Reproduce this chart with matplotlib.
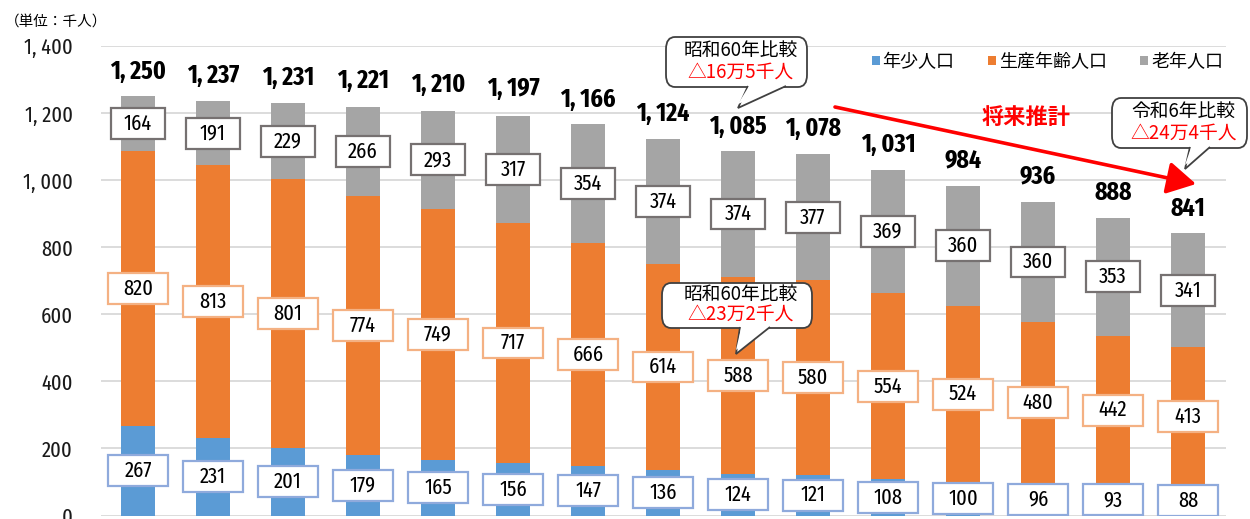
import matplotlib
matplotlib.use("Agg")
import matplotlib.pyplot as plt
from matplotlib.patches import Rectangle, FancyBboxPatch, Polygon, FancyArrowPatch
from matplotlib import font_manager as fm

# ---------------- data ----------------
categories = ["昭和60年", "平成2年", "平成7年", "平成12年", "平成17年", "平成22年",
              "平成27年", "令和2年", "令和6年", "令和7年", "令和12年", "令和17年",
              "令和22年", "令和27年", "令和32年"]
young = [267, 231, 201, 179, 165, 156, 147, 136, 124, 121, 108, 100, 96, 93, 88]
working = [820, 813, 801, 774, 749, 717, 666, 614, 588, 580, 554, 524, 480, 442, 413]
elderly = [164, 191, 229, 266, 293, 317, 354, 374, 374, 377, 369, 360, 360, 353, 341]
totals = [1250, 1237, 1231, 1221, 1210, 1197, 1166, 1124, 1085, 1078, 1031, 984, 936, 888, 841]
series_names = ["年少人口", "生産年齢人口", "老年人口"]
yticks = [0, 200, 400, 600, 800, 1000, 1200, 1400]

# ---------------- fonts ----------------
names = {f.name for f in fm.fontManager.ttflist}
narrow = next((n for n in ["Fira Sans Extra Condensed", "Fira Sans Condensed",
                           "Barlow Condensed", "Liberation Sans Narrow"] if n in names),
              "DejaVu Sans")
NUMF = [narrow, "Noto Sans CJK JP"]
JPF = ["Noto Sans CJK JP", "DejaVu Sans"]
plt.rcParams["font.family"] = JPF

C_BLUE = "#5B9BD5"
C_ORANGE = "#ED7D31"
C_GRAY = "#A5A5A5"

W, H, DPI = 1250, 519, 100
fig = plt.figure(figsize=(W / DPI, H / DPI), dpi=DPI)
ax = fig.add_axes([100.5 / W, 3.5 / H, 1125 / W, 469.5 / H])

x = list(range(len(categories)))
bw = 34 / 75
ax.bar(x, young, width=bw, color=C_BLUE, label=series_names[0], zorder=2)
ax.bar(x, working, width=bw, bottom=young, color=C_ORANGE, label=series_names[1], zorder=2)
bot2 = [a + b for a, b in zip(young, working)]
ax.bar(x, elderly, width=bw, bottom=bot2, color=C_GRAY, label=series_names[2], zorder=2)

ax.set_xlim(-0.5, len(categories) - 0.5)
ax.set_ylim(0, 1400)
ax.set_yticks(yticks)
ax.set_yticklabels([f"{v:,}".replace(",", ", ") for v in yticks], fontfamily=NUMF,
                   fontsize=16, color="#1a1a1a")
ax.set_xticks(x)
ax.set_xticklabels([])
ax.tick_params(axis="y", length=0, pad=20)
ax.tick_params(axis="x", length=0)
ax.grid(axis="y", color="#D9D9D9", lw=1.3, zorder=0)
ax.set_axisbelow(True)
for s in ax.spines.values():
    s.set_visible(False)

# data label boxes
def label_box(xc, yc, val, ec, wdat):
    hdat = 92
    ax.add_patch(Rectangle((xc - wdat / 2, yc - hdat / 2), wdat, hdat, fc="white",
                           ec=ec, lw=1.6, zorder=4))
    ax.text(xc, yc, str(val), ha="center", va="center", fontsize=16,
            fontfamily=NUMF, color="black", zorder=5)

for i in x:
    label_box(i, young[i] / 2, young[i], "#8FAADC", 0.8)
    label_box(i, young[i] + working[i] / 2, working[i], "#F4B183", 0.8)
    label_box(i, bot2[i] + elderly[i] / 2, elderly[i], "#767171", 0.72)
    ax.annotate(f"{totals[i]:,}".replace(",", ", "), (i, totals[i]), xytext=(0, 9),
                textcoords="offset points", ha="center", va="bottom", fontsize=18.5,
                fontweight="bold", fontfamily=NUMF, zorder=5)

# legend
leg = ax.legend(loc="center right", bbox_to_anchor=(1223 / W, 1 - 62 / H),
                bbox_transform=fig.transFigure, ncol=3, frameon=False,
                fontsize=13, handlelength=0.45, handleheight=0.45, handletextpad=0.15,
                columnspacing=1.85, borderpad=0, borderaxespad=0)

# helpers to convert pixel coords of reference to data
def d(px, py):
    return ((px - 138) / 75.0, (515.5 - py) / (469.5 / 1400))

def callout(box, tail, line1, line2):
    (x0, y0), (x1, y1) = d(box[0], box[3]), d(box[2], box[1])
    p = FancyBboxPatch((x0, y0), x1 - x0, y1 - y0,
                       boxstyle="round,pad=0,rounding_size=0.12", mutation_aspect=300,
                       fc="white", ec="#404040", lw=1.3, zorder=6, clip_on=False)
    ax.add_patch(p)
    (bx0, by), (bx1, _), (tx, ty) = d(tail[0], box[3]), d(tail[1], box[3]), d(*tail[2])
    eps = 3
    ax.add_patch(Polygon([(bx0, by + eps), (tx, ty), (bx1, by + eps)], closed=False,
                         fc="white", ec="#404040", lw=1.3, zorder=7, joinstyle="miter",
                         clip_on=False))
    ax.add_patch(Polygon([(bx0 + 0.02, by + eps + 2), (tx, ty + 12), (bx1 - 0.02, by + eps + 2)],
                         closed=True, fc="white", ec="none", zorder=7, clip_on=False))
    cx = (x0 + x1) / 2 + 0.05
    ax.text(cx, y0 + (y1 - y0) * 0.74, line1, ha="center", va="center", fontsize=13.5,
            color="black", zorder=8, clip_on=False)
    ax.text(cx, y0 + (y1 - y0) * 0.3, line2, ha="center", va="center", fontsize=13.5,
            color="#FF0000", zorder=8, clip_on=False)

callout((666, 37, 807, 87), (748, 786, (738, 108)), "昭和60年比較", "△16万5千人")
callout((662, 283, 812, 328), (740, 770, (736, 354)), "昭和60年比較", "△23万2千人")
callout((1112, 98, 1247, 148), (1190, 1210, (1185, 169)), "令和6年比較", "△24万4千人")

# red projection arrow
arr = FancyArrowPatch(d(835, 107), d(1196, 184), arrowstyle="-|>,head_length=8,head_width=4.5",
                      color="#FF0000", lw=2.6, mutation_scale=2.2, zorder=9,
                      shrinkA=0, shrinkB=0)
ax.add_patch(arr)
ax.text(*d(1026, 117), "将来推計", ha="center", va="center", fontsize=16, fontweight="bold",
        color="#FF0000", zorder=9)

fig.text(5 / W, 1 - 22 / H, "（単位：千人）", ha="left", va="center", fontsize=10.5)

fig.savefig("out.png", dpi=DPI)
